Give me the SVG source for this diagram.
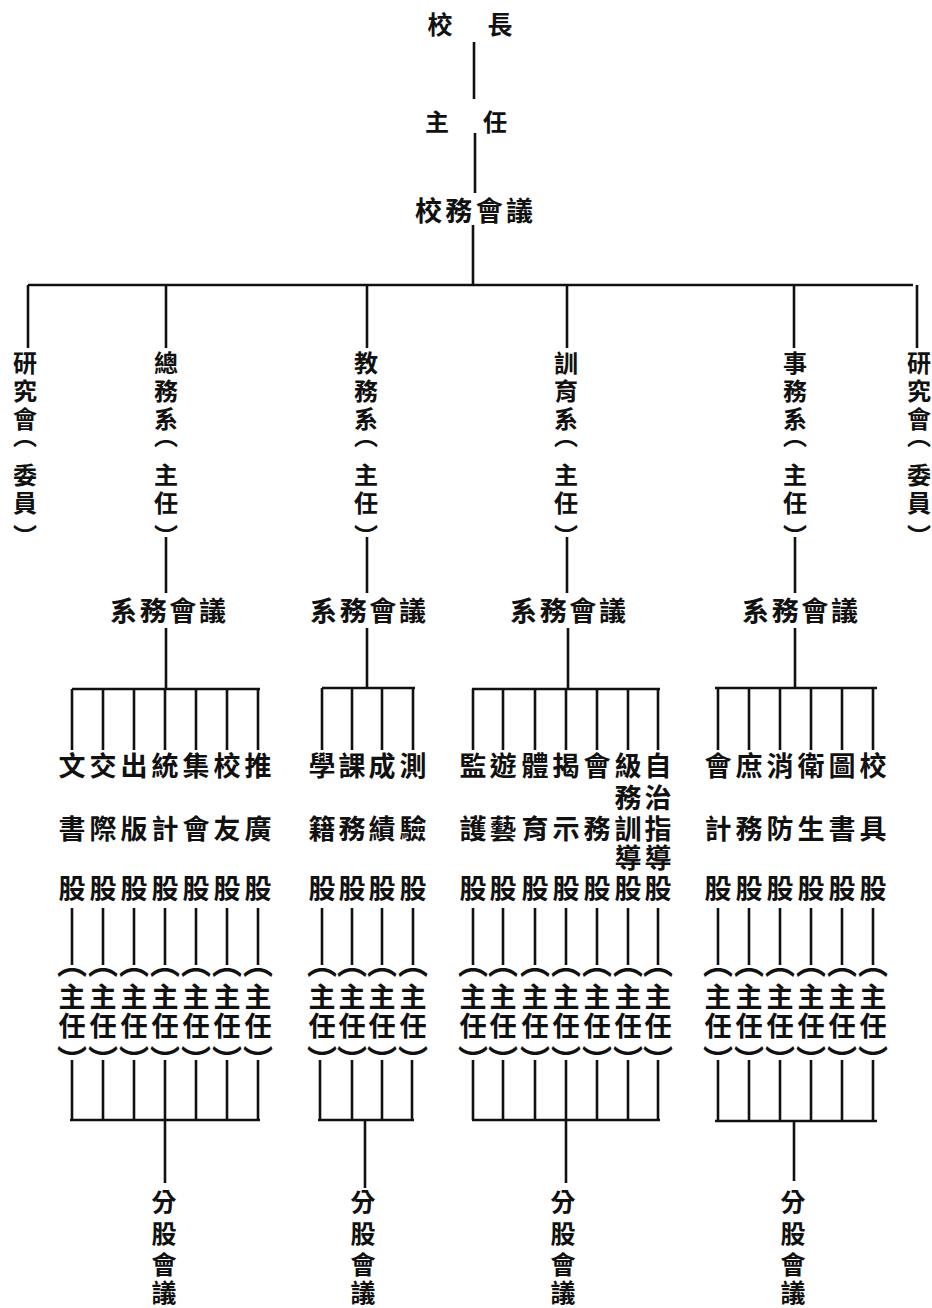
<svg xmlns="http://www.w3.org/2000/svg" width="932" height="1308" viewBox="0 0 932 1308">
<style>
.t{font-family:"Noto Sans CJK TC","Noto Sans CJK SC","Noto Sans CJK JP",sans-serif;font-weight:700;fill:#111;text-anchor:middle}
.s24{font-size:24px}.s25{font-size:25px}.s27{font-size:27px}.s30{font-size:30px}
.ln{stroke:#111;stroke-width:2.6;fill:none;stroke-linecap:butt}
</style>
<rect width="932" height="1308" fill="#fff"/>
<g id="connectors" class="ln">
<path d="M474 42V99M475 133V193M473 225V285M28 285H913"/>
<path d="M28 285V348M166 285V348M367 285V348M567 285V348M794 285V348M917 285V348"/>
<path d="M166 537V593M367 537V593M567 537V593M795 537V593"/>
<path d="M166 628V689M367 628V688M568 628V689M795 628V688"/>
<path d="M72 689H260M72 689V750M103 689V750M134 689V750M165 689V750M196 689V750M227 689V750M258 689V750"/>
<path d="M322 688H415M322 688V750M352 688V750M382 688V750M413 688V750"/>
<path d="M472 689H660M473 689V750M503 689V750M535 689V750M566 689V750M597 689V750M628 689V750M658 689V750"/>
<path d="M715 688H877M718 688V750M749 688V750M780 688V750M811 688V750M842 688V750M873 688V750"/>
<path d="M72 908V965M103 908V965M134 908V965M165 908V965M196 908V965M227 908V965M258 908V965M322 908V965M352 908V965M382 908V965M413 908V965M473 908V965M503 908V965M535 908V965M566 908V965M597 908V965M628 908V965M658 908V965M718 908V965M749 908V965M780 908V965M811 908V965M842 908V965M873 908V965"/>
<path d="M72 1060V1120M103 1060V1120M134 1060V1120M165 1060V1120M196 1060V1120M227 1060V1120M258 1060V1120M70 1120H260M165 1120V1183"/>
<path d="M320 1060V1120M352 1060V1120M382 1060V1120M412 1060V1120M318 1120H414M365 1120V1188"/>
<path d="M473 1060V1120M503 1060V1120M535 1060V1120M566 1060V1120M597 1060V1120M628 1060V1120M658 1060V1120M472 1120H660M566 1120V1183"/>
<path d="M718 1060V1121M749 1060V1121M780 1060V1121M811 1060V1121M842 1060V1121M873 1060V1121M715 1121H877M794 1121V1181"/>
</g>
<g id="n-xiaozhang"><text class="t s25" x="440 500" y="34 34">校長</text></g>
<g id="n-zhuren"><text class="t s24" x="437 495" y="131 131">主任</text></g>
<g id="n-xiaowu"><text class="t s27" x="474" y="221" textLength="118" lengthAdjust="spacing">校務會議</text></g>
<g id="n-yanjiu-l"><text class="t s24" x="25 25 25 25 25 25 25" y="372 400 428 445 484 512 545">研究會︵委員︶</text></g>
<g id="n-zongwu"><text class="t s24" x="166 166 166 166 166 166 166" y="372 400 428 445 484 512 545">總務系︵主任︶</text></g>
<g id="n-jiaowu"><text class="t s24" x="366 366 366 366 366 366 366" y="372 400 428 445 484 512 545">教務系︵主任︶</text></g>
<g id="n-xunyu"><text class="t s24" x="566 566 566 566 566 566 566" y="372 400 428 445 484 512 545">訓育系︵主任︶</text></g>
<g id="n-shiwu"><text class="t s24" x="795 795 795 795 795 795 795" y="372 400 428 445 484 512 545">事務系︵主任︶</text></g>
<g id="n-yanjiu-r"><text class="t s24" x="919 919 919 919 919 919 919" y="372 400 428 445 484 512 545">研究會︵委員︶</text></g>
<g id="n-xiwu1"><text class="t s27" x="168" y="621" textLength="116" lengthAdjust="spacing">系務會議</text></g>
<g id="n-xiwu2"><text class="t s27" x="368" y="621" textLength="116" lengthAdjust="spacing">系務會議</text></g>
<g id="n-xiwu3"><text class="t s27" x="568" y="621" textLength="116" lengthAdjust="spacing">系務會議</text></g>
<g id="n-xiwu4"><text class="t s27" x="800" y="621" textLength="116" lengthAdjust="spacing">系務會議</text></g>
<g id="n-g1-sections" class="t s27">
<text x="72 103 134 165 196 227 258" y="776">文交出統集校推</text>
<text x="72 103 134 165 196 227 258" y="839">書際版計會友廣</text>
<text x="72 103 134 165 196 227 258" y="899">股股股股股股股</text>
</g>
<g id="n-g2-sections" class="t s27">
<text x="322 352 382 413" y="776">學課成測</text>
<text x="322 352 382 413" y="839">籍務績驗</text>
<text x="322 352 382 413" y="899">股股股股</text>
</g>
<g id="n-g3-sections" class="t s27">
<text x="473 503 535 566 597 628 658" y="776">監遊體揭會級自</text>
<text x="628 658" y="808">務治</text>
<text x="473 503 535 566 597 628 658" y="839">護藝育示務訓指</text>
<text x="628 658" y="868">導導</text>
<text x="473 503 535 566 597 628 658" y="899">股股股股股股股</text>
</g>
<g id="n-g4-sections" class="t s27">
<text x="718 749 780 811 842 873" y="776">會庶消衛圖校</text>
<text x="718 749 780 811 842 873" y="839">計務防生書具</text>
<text x="718 749 780 811 842 873" y="899">股股股股股股</text>
</g>
<g id="n-heads" class="t">
<text class="s30" x="72 103 134 165 196 227 258 322 352 382 413 473 503 535 566 597 628 658 718 749 780 811 842 873" y="974">︵︵︵︵︵︵︵︵︵︵︵︵︵︵︵︵︵︵︵︵︵︵︵︵</text>
<text class="s27" x="72 103 134 165 196 227 258 322 352 382 413 473 503 535 566 597 628 658 718 749 780 811 842 873" y="1007">主主主主主主主主主主主主主主主主主主主主主主主主</text>
<text class="s27" x="72 103 134 165 196 227 258 322 352 382 413 473 503 535 566 597 628 658 718 749 780 811 842 873" y="1036">任任任任任任任任任任任任任任任任任任任任任任任任</text>
<text class="s30" x="72 103 134 165 196 227 258 322 352 382 413 473 503 535 566 597 628 658 718 749 780 811 842 873" y="1071">︶︶︶︶︶︶︶︶︶︶︶︶︶︶︶︶︶︶︶︶︶︶︶︶</text>
</g>
<g id="n-fengu1"><text class="t s25" x="164 164 164 164" y="1211 1243 1274 1302">分股會議</text></g>
<g id="n-fengu2"><text class="t s25" x="363 363 363 363" y="1211 1243 1274 1302">分股會議</text></g>
<g id="n-fengu3"><text class="t s25" x="563 563 563 563" y="1211 1243 1274 1302">分股會議</text></g>
<g id="n-fengu4"><text class="t s25" x="793 793 793 793" y="1211 1243 1274 1302">分股會議</text></g>
</svg>
